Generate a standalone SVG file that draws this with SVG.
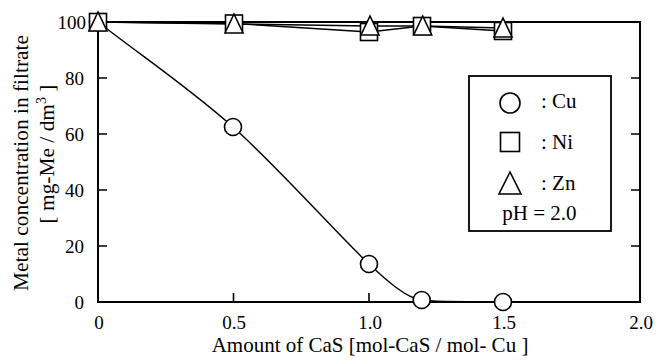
<svg xmlns="http://www.w3.org/2000/svg" width="657" height="360" viewBox="0 0 657 360">
<style>
text{font-family:"Liberation Serif","Times New Roman",serif;fill:#000}
.t{font-size:19px}
.ttl{font-size:21.4px}
.xt{font-size:21px}
.lg{font-size:21px}
.axis{fill:none;stroke:#000;stroke-width:2}
.tick{stroke:#000;stroke-width:1.6}
.ln{fill:none;stroke:#000;stroke-width:1.4}
.mk{fill:#fff;stroke:#000;stroke-width:1.6}
</style>
<defs>
<circle id="cir" r="8.5" class="mk"/>
<rect id="sq" x="-8.5" y="-8.5" width="17" height="17" class="mk"/>
<polygon id="tri" points="0,-10 -9,9 9,9" class="mk"/>
</defs>
<g id="frame">
<rect x="98" y="22" width="542" height="280" class="axis"/>
<path class="tick" d="M98,246H107M98,190H107M98,134H107M98,78H107M631,246H640M631,190H640M631,134H640M631,78H640M233.5,302V293M369,302V293M504.5,302V293"/>
</g>
<g id="ticklabels" class="t">
<text x="84" y="309" text-anchor="end">0</text>
<text x="84" y="253" text-anchor="end">20</text>
<text x="84" y="197" text-anchor="end">40</text>
<text x="84" y="141" text-anchor="end">60</text>
<text x="84" y="85" text-anchor="end">80</text>
<text x="86" y="29" text-anchor="end">100</text>
<text x="99" y="329" text-anchor="middle">0</text>
<text x="234" y="329" text-anchor="middle">0.5</text>
<text x="370" y="329" text-anchor="middle">1.0</text>
<text x="504" y="329" text-anchor="middle">1.5</text>
<text x="641" y="329" text-anchor="middle">2.0</text>
</g>
<g id="axis-titles" class="ttl">
<text class="xt" x="370" y="352" text-anchor="middle">Amount of CaS [mol-CaS / mol- Cu ]</text>
<text transform="translate(27.5,163) rotate(-90)" text-anchor="middle">Metal concentration in filtrate</text>
<text transform="translate(53.5,154) rotate(-90)" text-anchor="middle">[ mg-Me / dm<tspan dy="-8" font-size="14">3</tspan><tspan dy="8"> ]</tspan></text>
</g>
<g id="connectors">
<path id="cu-line" class="ln" d="M98,22 C143,57 188,87 233,127 C278,167 338,235 369,264 C386,280 405,297 421.7,300.5 C450,302 475,302 503,302"/>
<polyline id="ni-line" class="ln" points="98,22 234,23.5 369,32 422,26 503,31"/>
<polyline id="zn-line" class="ln" points="98,22 234,24 370,26 422.7,26 503,28"/>
</g>
<g id="cu-points">
<use href="#cir" x="98" y="22"/>
<use href="#cir" x="233" y="127"/>
<use href="#cir" x="369" y="264"/>
<use href="#cir" x="421.7" y="300"/>
<use href="#cir" x="503" y="302"/>
</g>
<g id="ni-points">
<use href="#sq" x="98" y="22"/>
<use href="#sq" x="234" y="23.5"/>
<use href="#sq" x="369" y="32"/>
<use href="#sq" x="422" y="26"/>
<use href="#sq" x="503" y="31"/>
</g>
<g id="zn-points">
<use href="#tri" x="98" y="22"/>
<use href="#tri" x="234" y="24"/>
<use href="#tri" x="370" y="26"/>
<use href="#tri" x="422.7" y="26"/>
<use href="#tri" x="503" y="28"/>
</g>
<g id="legend">
<rect x="469" y="76" width="142" height="155" fill="#fff" stroke="#000" stroke-width="1.8"/>
<circle cx="510" cy="103" r="10" fill="#fff" stroke="#000" stroke-width="1.6"/>
<rect x="500.5" y="132.5" width="19" height="19" fill="#fff" stroke="#000" stroke-width="1.6"/>
<polygon points="510,172 499,194 521,194" fill="#fff" stroke="#000" stroke-width="1.6"/>
<text class="lg" x="541" y="108">: Cu</text>
<text class="lg" x="541" y="149">: Ni</text>
<text class="lg" x="541" y="190">: Zn</text>
<text class="lg" x="539.5" y="220" text-anchor="middle">pH = 2.0</text>
</g>
</svg>
